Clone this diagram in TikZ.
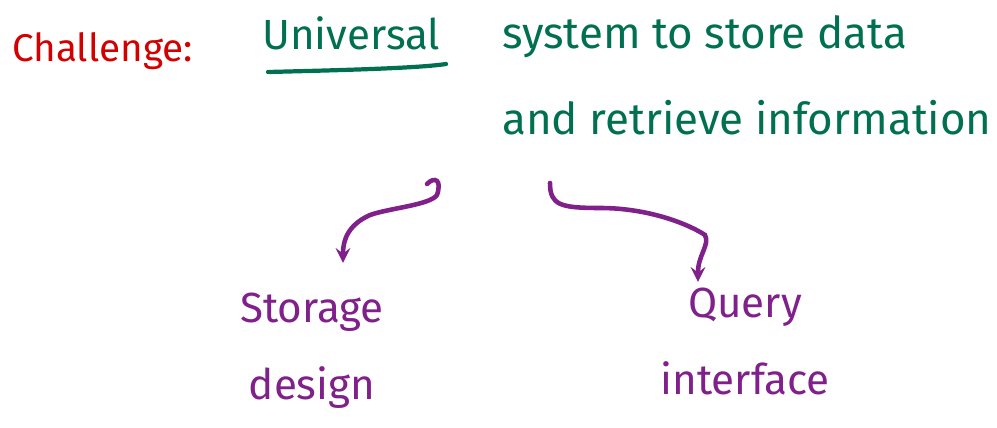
\documentclass[tikz,border=0pt]{standalone}
\usepackage{fontspec}
\setmainfont{Fira Sans}
\definecolor{inkred}{RGB}{210,0,0}
\definecolor{inkgreen}{RGB}{0,112,80}
\definecolor{inkpurple}{RGB}{128,32,138}

\begin{document}
\begin{tikzpicture}[x=0.02cm, y=-0.02cm, >=stealth, line cap=round,
  hand/.style={inner sep=0pt, font=\fontsize{24}{44}\selectfont},
  flow/.style={->, inkpurple, line width=2.6pt}]
\useasboundingbox (0,0) rectangle (997,428);
\node[hand, text=inkred, anchor=base west, font=\fontsize{22}{44}\selectfont] (challenge) at (12,62) {Challenge:};
\node[hand, text=inkgreen, anchor=base west] (universal) at (262,50) {Universal};
% two-line nodes sit on the baseline of their last line
\node[hand, text=inkgreen, anchor=base west, align=left, font=\fontsize{25}{44}\selectfont] (system) at (502,135) {system to store data\\[5pt]and retrieve information};
\node[hand, text=inkpurple, align=center, anchor=base] (storage) at (312,400) {Storage\\design};
\node[hand, text=inkpurple, align=center, anchor=base] (query) at (745,395) {Query\\interface};
% underline under Universal
\draw[inkgreen, line width=2.4pt] ([shift={(6,22)}]universal.base west) .. controls (350,70) and (420,68) .. ([shift={(184,14)}]universal.base west);
% the two branches
\coordinate (lfrom) at (427,184);
\coordinate (rfrom) at (550,183);
\draw[flow] (lfrom) .. controls (435,176) and (442,180) .. (437,195) .. controls (430,205) and (390,208) .. (370,215) .. controls (348,225) and (343,240) .. ([shift={(31,-30)}]storage.north);
\draw[flow] (rfrom) .. controls (550,205) and (560,208) .. (600,208) .. controls (650,208) and (690,225) .. (705,235) .. controls (710,245) and (698,255) .. ([shift={(-47,-6)}]query.north);
\end{tikzpicture}
\end{document}
